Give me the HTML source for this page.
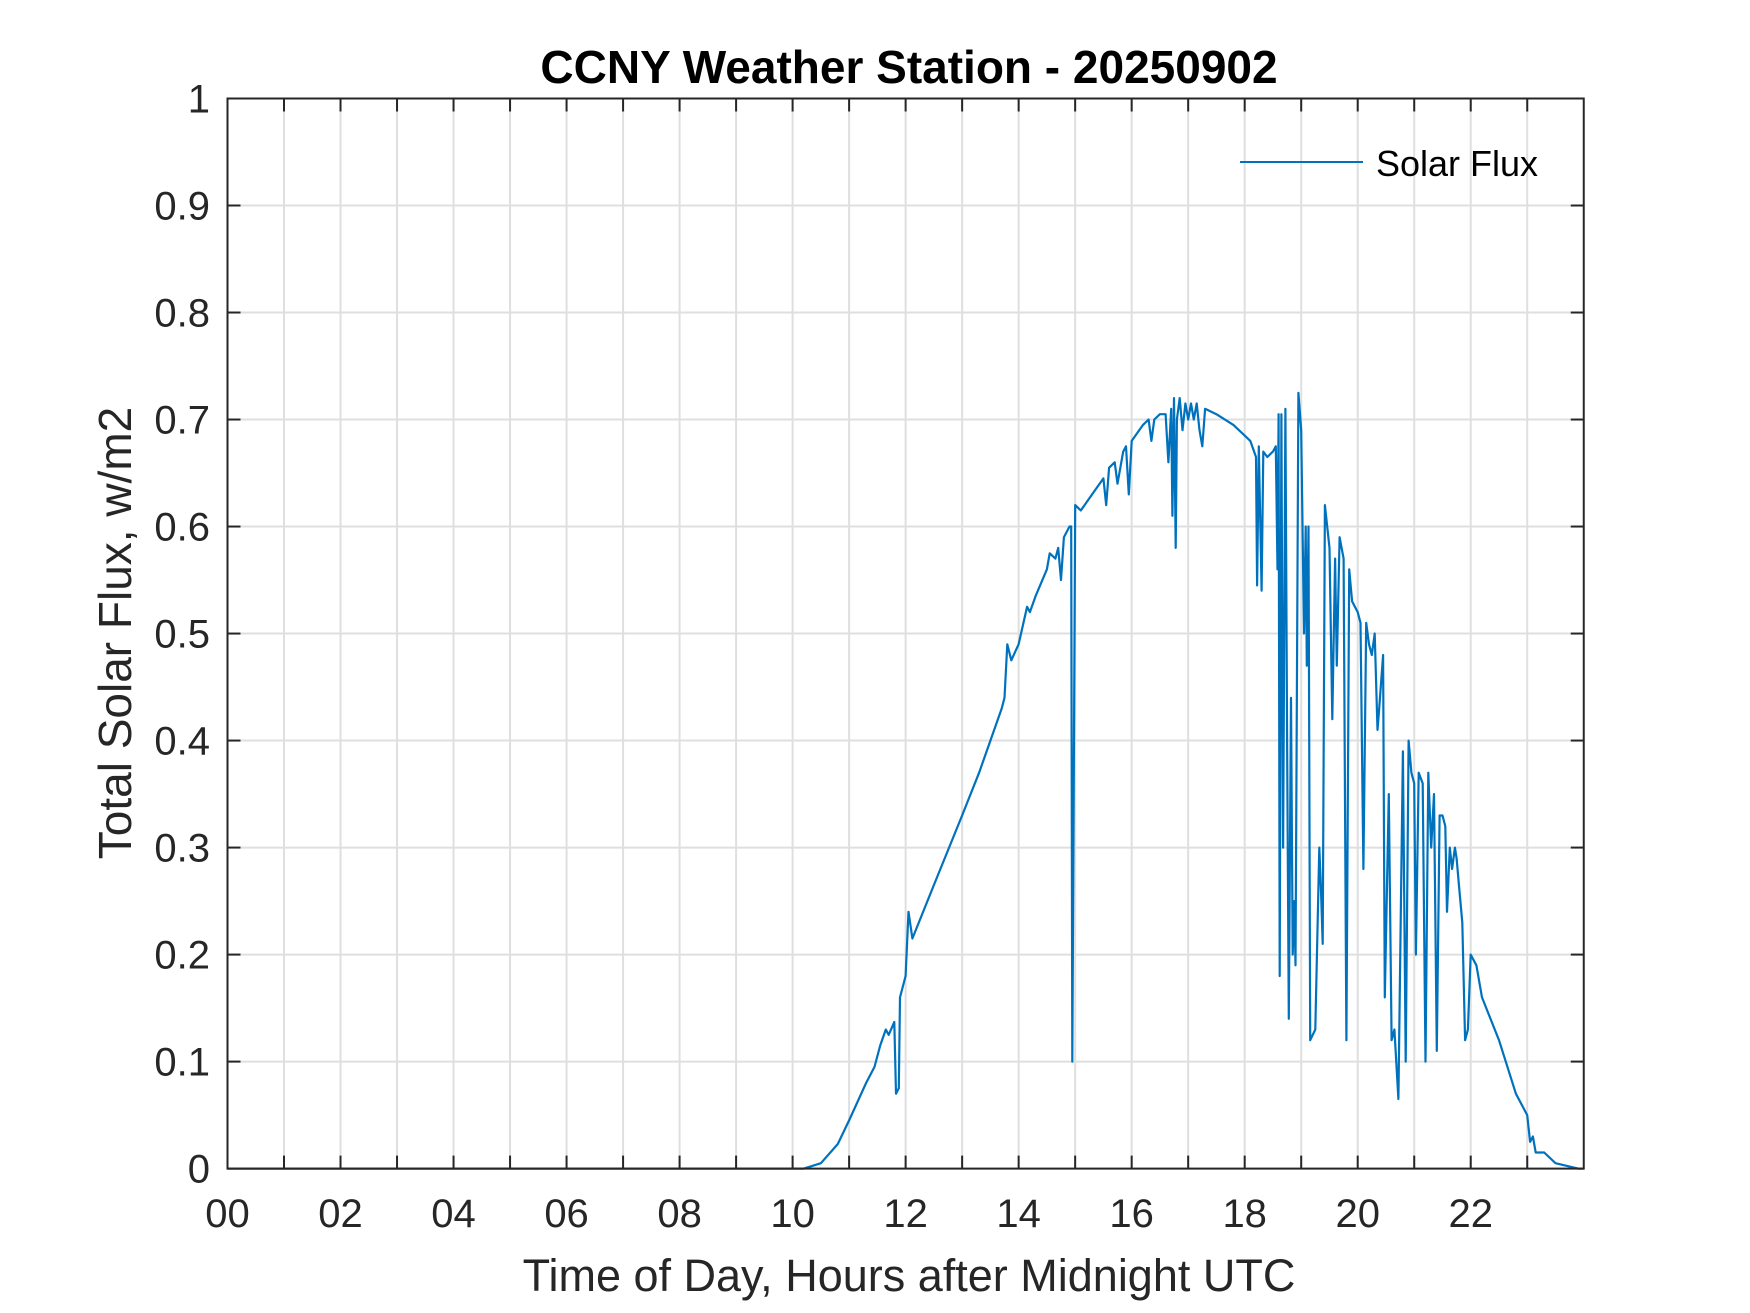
<!DOCTYPE html>
<html><head><meta charset="utf-8"><style>
html,body{margin:0;padding:0;background:#fff;}
svg{display:block;font-family:"Liberation Sans",Arial,sans-serif;}
</style></head><body>
<svg id="chart" width="1750" height="1313" viewBox="0 0 1750 1313" xmlns="http://www.w3.org/2000/svg">
<rect width="1750" height="1313" fill="#fff"/>
<g id="grid"></g>
<g id="plot"></g>
<g id="axes"></g>
<text x="909" y="83" text-anchor="middle" font-size="46" font-weight="bold" fill="#000">CCNY Weather Station - 20250902</text>
<text x="909" y="1291" text-anchor="middle" font-size="45" fill="#262626">Time of Day, Hours after Midnight UTC</text>
<text transform="translate(131,633) rotate(-90)" text-anchor="middle" font-size="46" fill="#262626">Total Solar Flux, w/m2</text>
<g>
<line x1="1240" y1="162" x2="1363" y2="162" stroke="#0072BD" stroke-width="2"/>
<text x="1376" y="176" font-size="36" fill="#000">Solar Flux</text>
</g>
</svg>
<script>
const xTickLabels=["00","02","04","06","08","10","12","14","16","18","20","22"];
const yTickLabels=["0","0.1","0.2","0.3","0.4","0.5","0.6","0.7","0.8","0.9","1"];
const hours=[0,10.2,10.5,10.8,11.0,11.3,11.45,11.55,11.65,11.7,11.8,11.83,11.88,11.9,12.0,12.05,12.12,12.5,13.0,13.3,13.5,13.7,13.75,13.8,13.87,14.0,14.15,14.2,14.3,14.5,14.55,14.65,14.7,14.75,14.8,14.9,14.93,14.95,15.0,15.1,15.3,15.5,15.55,15.6,15.7,15.75,15.85,15.9,15.95,16.0,16.2,16.3,16.35,16.4,16.5,16.6,16.65,16.7,16.72,16.75,16.78,16.8,16.85,16.9,16.95,17.0,17.05,17.1,17.15,17.2,17.25,17.3,17.5,17.8,18.0,18.1,18.2,18.22,18.25,18.3,18.33,18.4,18.5,18.55,18.58,18.6,18.62,18.65,18.68,18.72,18.75,18.78,18.82,18.85,18.88,18.9,18.95,19.0,19.05,19.08,19.1,19.13,19.16,19.25,19.32,19.35,19.38,19.42,19.5,19.55,19.6,19.63,19.68,19.75,19.8,19.85,19.9,20.0,20.05,20.1,20.15,20.2,20.25,20.3,20.35,20.38,20.45,20.48,20.55,20.6,20.65,20.72,20.8,20.85,20.9,20.95,21.0,21.03,21.08,21.15,21.2,21.25,21.3,21.35,21.4,21.45,21.5,21.55,21.58,21.63,21.67,21.72,21.75,21.8,21.85,21.9,21.95,22.0,22.1,22.2,22.5,22.8,23.0,23.05,23.1,23.15,23.3,23.5,23.9,24];
const flux=[0,0,0.005,0.023,0.045,0.08,0.095,0.115,0.13,0.125,0.137,0.07,0.075,0.16,0.18,0.24,0.215,0.265,0.33,0.37,0.40,0.43,0.44,0.49,0.475,0.49,0.525,0.52,0.535,0.56,0.575,0.57,0.58,0.55,0.59,0.6,0.6,0.10,0.62,0.615,0.63,0.645,0.62,0.655,0.66,0.64,0.67,0.675,0.63,0.68,0.695,0.7,0.68,0.7,0.705,0.705,0.66,0.71,0.61,0.72,0.58,0.7,0.72,0.69,0.715,0.7,0.715,0.7,0.715,0.69,0.675,0.71,0.705,0.695,0.685,0.68,0.665,0.545,0.675,0.54,0.67,0.665,0.67,0.675,0.56,0.705,0.18,0.705,0.3,0.71,0.4,0.14,0.44,0.2,0.25,0.19,0.725,0.69,0.5,0.6,0.47,0.6,0.12,0.13,0.3,0.26,0.21,0.62,0.58,0.42,0.57,0.47,0.59,0.57,0.12,0.56,0.53,0.52,0.51,0.28,0.51,0.49,0.48,0.5,0.41,0.43,0.48,0.16,0.35,0.12,0.13,0.065,0.39,0.1,0.4,0.37,0.36,0.2,0.37,0.36,0.1,0.37,0.3,0.35,0.11,0.33,0.33,0.32,0.24,0.3,0.28,0.3,0.29,0.26,0.23,0.12,0.13,0.2,0.19,0.16,0.12,0.07,0.05,0.025,0.03,0.015,0.015,0.005,0,0];

const L=227.5,R=1583.75,T=98.5,B=1168.6;
const xScale=h=>L+(h/24)*(R-L);
const yScale=v=>B-v*(B-T);
const NS="http://www.w3.org/2000/svg";
function mk(tag,attrs,parent){const e=document.createElementNS(NS,tag);for(const k in attrs)e.setAttribute(k,attrs[k]);parent.appendChild(e);return e;}
const grid=document.getElementById('grid'),axes=document.getElementById('axes'),plot=document.getElementById('plot');
for(let h=1;h<24;h++){
  const x=xScale(h);
  const g=mk('line',{x1:x,y1:T,x2:x,y2:B,stroke:'#dfdfdf','stroke-width':2},grid);
  
  
  const t1=mk('line',{x1:x,y1:B,x2:x,y2:B-13,stroke:'#262626','stroke-width':2},axes);
  
  
  const t2=mk('line',{x1:x,y1:T,x2:x,y2:T+13,stroke:'#262626','stroke-width':2},axes);
  
  
}
xTickLabels.forEach((lab,i)=>{
  const t=mk('text',{x:xScale(i*2),y:1227,'text-anchor':'middle','font-size':40,fill:'#262626'},axes);
  t.textContent=lab;
  
  
});
yTickLabels.forEach((lab,i)=>{
  const v=i/10,y=yScale(v);
  if(i>0&&i<10){
    const g=mk('line',{x1:L,y1:y,x2:R,y2:y,stroke:'#dfdfdf','stroke-width':2},grid);
    
    
    const a=mk('line',{x1:L,y1:y,x2:L+13,y2:y,stroke:'#262626','stroke-width':2},axes);
    
    
    const b=mk('line',{x1:R,y1:y,x2:R-13,y2:y,stroke:'#262626','stroke-width':2},axes);
    
    
  }
  const t=mk('text',{x:210,y:y+14,'text-anchor':'end','font-size':40,fill:'#262626'},axes);
  t.textContent=lab;
  
  
});
const box=mk('rect',{x:L,y:T,width:R-L,height:B-T,fill:'none',stroke:'#262626','stroke-width':2},axes);


const d=hours.map((h,i)=>(i?'L':'M')+xScale(h).toFixed(1)+' '+yScale(flux[i]).toFixed(1)).join(' ');
const line=mk('path',{d:d,fill:'none',stroke:'#0072BD','stroke-width':2.2,'stroke-linejoin':'round'},plot);


</script>
</body></html>
